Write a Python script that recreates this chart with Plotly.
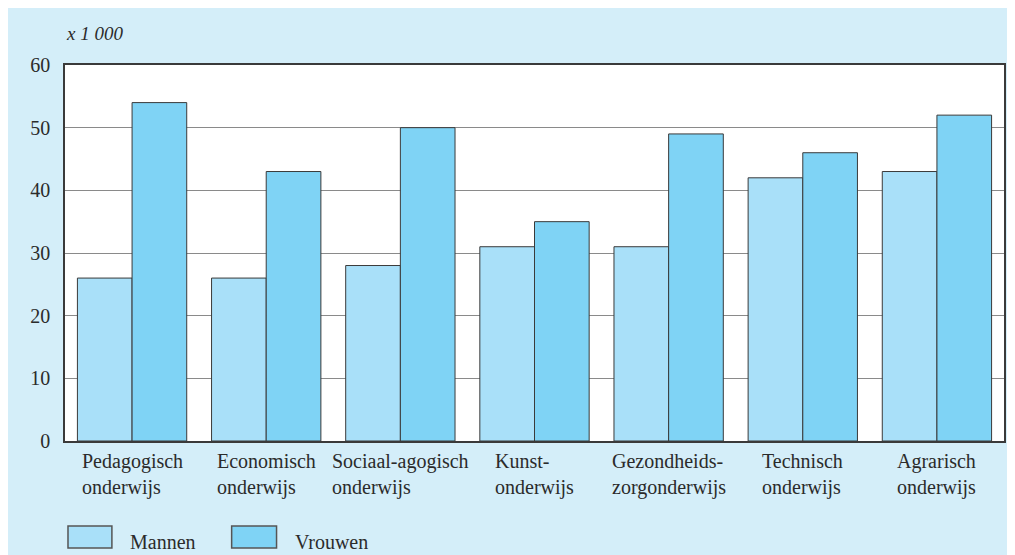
import plotly.graph_objects as go

# --- data ---
categories = [
    "Pedagogisch<br>onderwijs",
    "Economisch<br>onderwijs",
    "Sociaal-agogisch<br>onderwijs",
    "Kunst-<br>onderwijs",
    "Gezondheids-<br>zorgonderwijs",
    "Technisch<br>onderwijs",
    "Agrarisch<br>onderwijs",
]
mannen = [26, 26, 28, 31, 31, 42, 43]
vrouwen = [54, 43, 50, 35, 49, 46, 52]
series_names = ["Mannen", "Vrouwen"]
y_ticks = [0, 10, 20, 30, 40, 50, 60]

# --- styling ---
C_MANNEN = "#A9E0F9"
C_VROUWEN = "#7FD3F5"
C_BG = "#D4EEF9"
C_EDGE = "#3a3a3a"
FONT = "Liberation Serif"
TXT = "#2b2b2b"

# the page puts the figure 8px in from the top-left corner
OFF = 8
W, H = 1015 - 2 * OFF, 555 - OFF
L, R, T = 65 - OFF, 1, 65 - OFF
B = H - (441 - OFF)
PW = W - L - R
PH = H - T - B


def px_x(p):
    # page pixel -> paper coordinate
    return (p - OFF - L) / PW


def px_y(p):
    return (H - B - (p - OFF)) / PH


fig = go.Figure()
for name, vals, col in [(series_names[0], mannen, C_MANNEN), (series_names[1], vrouwen, C_VROUWEN)]:
    fig.add_trace(go.Bar(
        x=categories, y=vals, name=name,
        marker=dict(color=col, line=dict(color=C_EDGE, width=1)),
        showlegend=False,
    ))

fig.update_layout(
    width=W, height=H,
    margin=dict(l=L, r=R, t=T, b=B),
    paper_bgcolor=C_BG,
    plot_bgcolor="white",
    barmode="group",
    bargap=0.185,
    bargroupgap=0,
    font=dict(family=FONT, size=20, color=TXT),
)

fig.update_xaxes(
    showticklabels=False, ticks="", showgrid=False,
    showline=True, linecolor=C_EDGE, linewidth=1.5, mirror=True,
)
fig.update_yaxes(
    range=[0, 60], tickvals=y_ticks, ticks="",
    showgrid=True, gridcolor="#8a8a8a", gridwidth=1,
    showline=True, linecolor=C_EDGE, linewidth=1.5, mirror=True,
    zeroline=False, ticklabelstandoff=9,
    tickfont=dict(family=FONT, size=20, color=TXT),
)

# category labels (left aligned lines)
for cat in categories:
    fig.add_annotation(x=cat, xref="x", y=0, yref="paper", yanchor="top",
                       yshift=-7, text=cat, showarrow=False, align="left",
                       font=dict(family=FONT, size=20, color=TXT))

# unit label
fig.add_annotation(x=0, xref="paper", y=1, yref="paper", xanchor="left",
                   yanchor="middle", yshift=32, xshift=-1, text="<i>x 1 000</i>",
                   showarrow=False, font=dict(family=FONT, size=19, color=TXT))

# legend boxes
legend_items = [(68, 112, 128, C_MANNEN), (232, 277, 293, C_VROUWEN)]
for name, (x0, x1, tx, col) in zip(series_names, legend_items):
    fig.add_shape(type="rect", xref="paper", yref="paper",
                  x0=px_x(x0), x1=px_x(x1), y0=px_y(548), y1=px_y(526),
                  fillcolor=col, line=dict(color="#555555", width=1.5))
    fig.add_annotation(x=px_x(tx), xref="paper", y=px_y(542), yref="paper",
                       xanchor="left", yanchor="middle", text=name, showarrow=False,
                       font=dict(family=FONT, size=20, color=TXT))

fig.write_html("out.html")
